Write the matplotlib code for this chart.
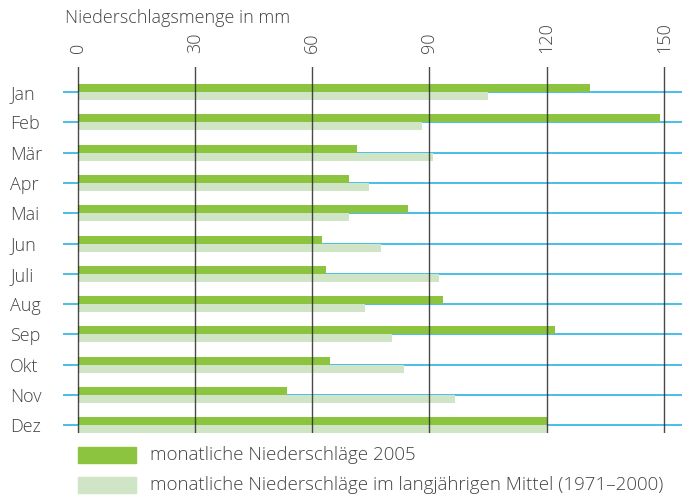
import numpy as np
import matplotlib
matplotlib.use('Agg')
import matplotlib.pyplot as plt
from matplotlib.patches import Rectangle

months = ['Jan', 'Feb', 'Mär', 'Apr', 'Mai', 'Jun', 'Juli', 'Aug', 'Sep', 'Okt', 'Nov', 'Dez']
rain_2005 = [131, 149, 71.5, 69.5, 84.5, 62.5, 63.5, 93.5, 122, 64.5, 53.5, 120]
rain_mean = [105, 88, 91, 74.5, 69.5, 77.5, 92.5, 73.5, 80.5, 83.5, 96.5, 120]
xticks = [0, 30, 60, 90, 120, 150]

c_2005 = '#8cc43f'
c_mean = '#cfe5c5'
c_line = '#2ab4e6'
c_text = '#444444'
fs = 13

plt.rcParams['font.family'] = ['Open Sans', 'DejaVu Sans']
plt.rcParams['font.weight'] = 'light'

W, H = 682, 500
fig = plt.figure(figsize=(W / 100, H / 100), dpi=100)
# axes spans the blue row lines horizontally and the grid lines vertically
ax = fig.add_axes([63 / W, 1 - 433 / H, (682 - 63) / W, (433 - 67) / H])

px_mm = (664 - 77.5) / 150.0
ax.set_xlim((63 - 77.5) / px_mm, (682 - 77.5) / px_mm)
row = 30.3
ax.set_ylim((433 - 92) / row, (67 - 92) / row)

y = np.arange(len(months))
bh = 8 / row
for yi in y:
    ax.axhline(yi, color=c_line, lw=1.2, zorder=1)
ax.barh(y - bh / 2, rain_2005, height=bh, color=c_2005, zorder=2)
ax.barh(y + bh / 2, rain_mean, height=bh, color=c_mean, zorder=2)
for xv in xticks:
    ax.axvline(xv, color='#2a2a2a', lw=1.0, alpha=0.85, zorder=3)

for s in ax.spines.values():
    s.set_visible(False)

ax.xaxis.tick_top()
ax.set_xticks(xticks)
ax.set_xticklabels([str(v) for v in xticks], rotation=90, color=c_text, fontsize=fs)
ax.tick_params(axis='x', length=0, pad=10)
ax.set_yticks(y)
ax.set_yticklabels(months, color=c_text, fontsize=fs)
ax.tick_params(axis='y', length=0, pad=38)
for lab in ax.get_yticklabels():
    lab.set_ha('left')

fig.text(65 / W, 1 - 18 / H, 'Niederschlagsmenge in mm', color=c_text,
         fontsize=fs, va='center', ha='left')

# legend
legend = [(c_2005, 'monatliche Niederschläge 2005', 455),
          (c_mean, 'monatliche Niederschläge im langjährigen Mittel (1971–2000)', 485)]
for col, txt, yc in legend:
    fig.patches.append(Rectangle((78 / W, 1 - (yc + 8) / H), 58 / W, 16 / H,
                                 color=col, transform=fig.transFigure))
    fig.text(150 / W, 1 - yc / H, txt, color=c_text, fontsize=13.5,
             va='center', ha='left')

plt.savefig('out.png', dpi=100)
